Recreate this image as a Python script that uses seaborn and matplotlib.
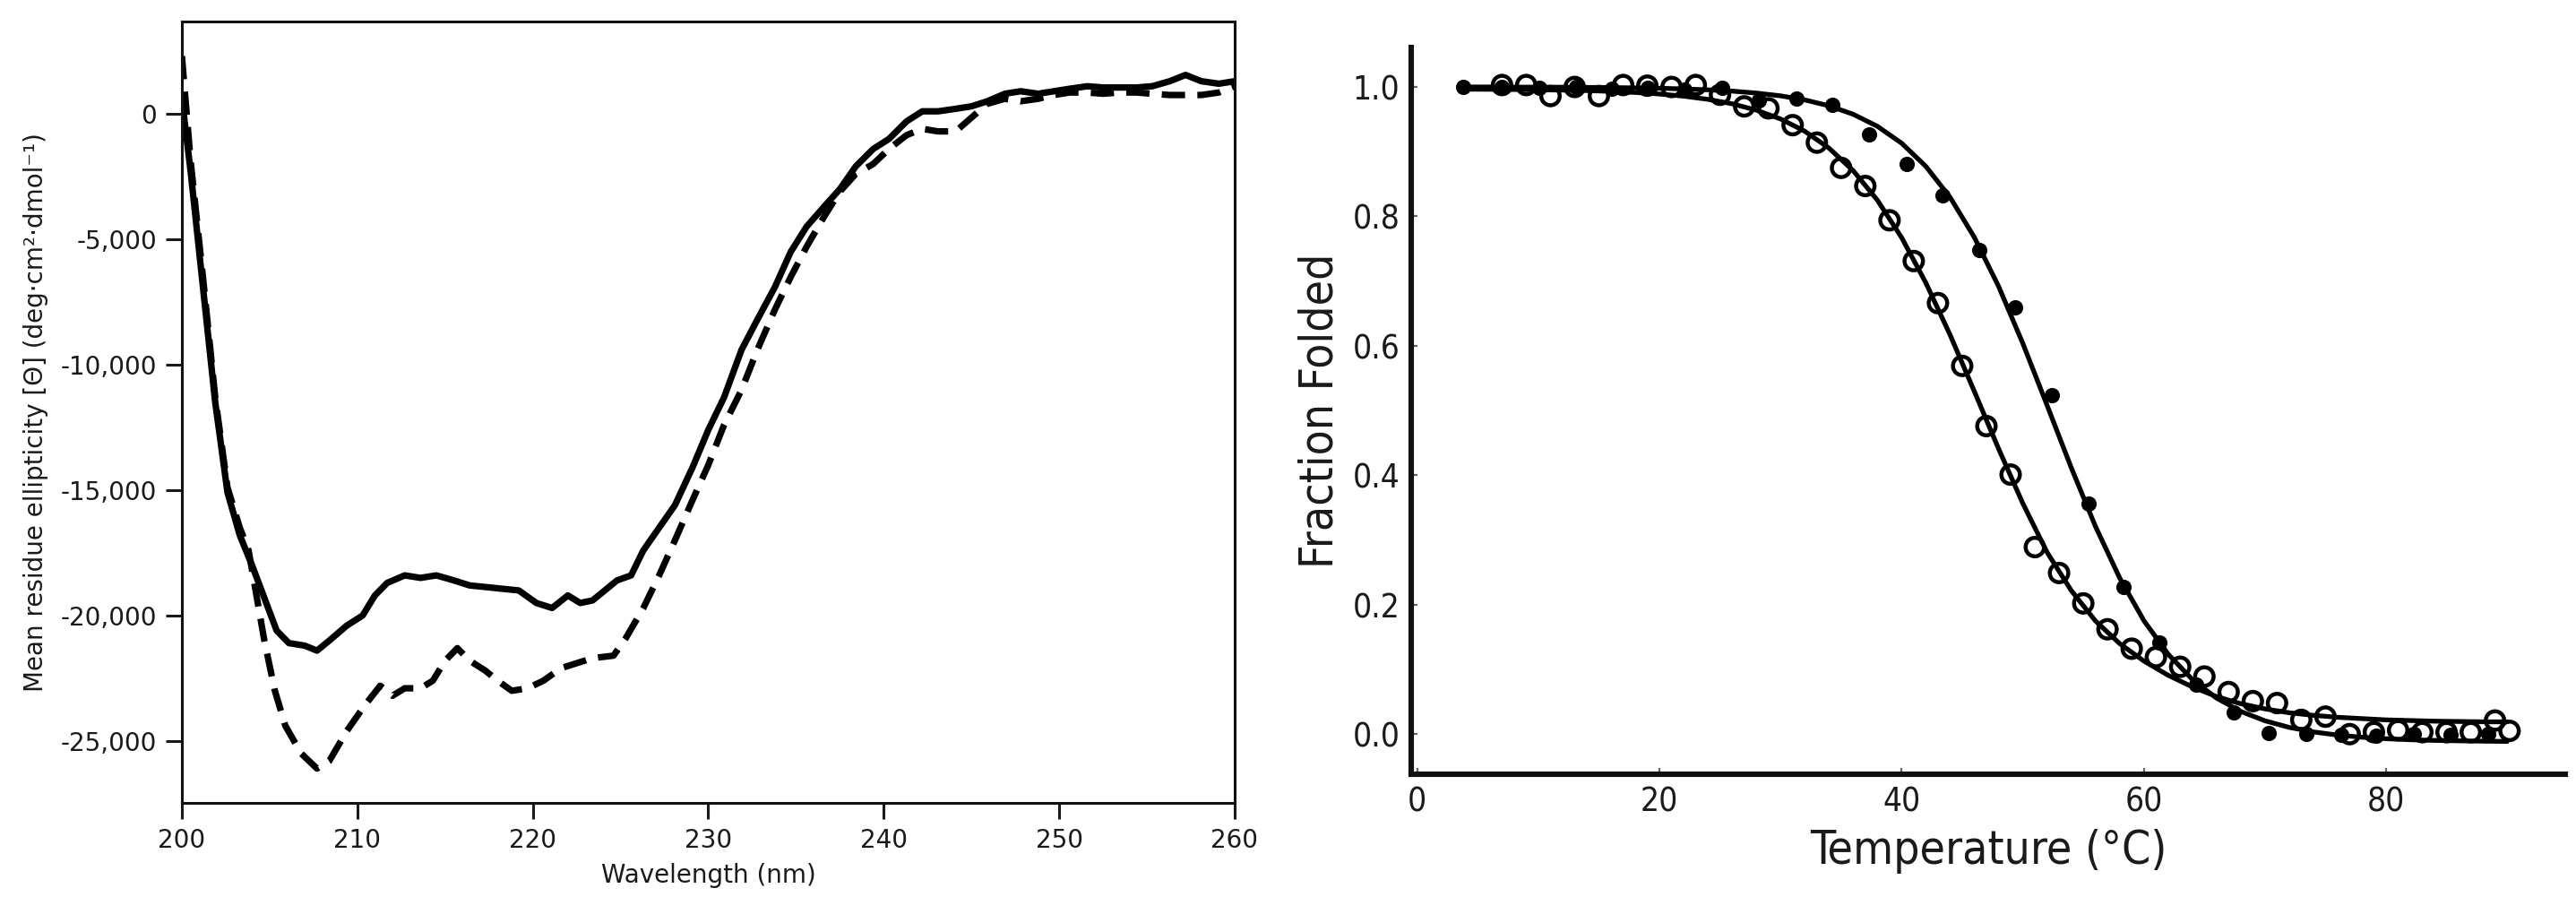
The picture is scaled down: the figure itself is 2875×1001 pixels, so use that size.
import numpy as np
import pandas as pd
import matplotlib
matplotlib.use("Agg")
import matplotlib.pyplot as plt
from matplotlib.ticker import FuncFormatter
import seaborn as sns

# ---------------- data: CD spectra (left) ----------------
wl_solid = [200.0, 200.5, 201.2, 201.9, 202.6, 203.3, 204.0, 204.7, 205.4, 206.1,
            207.0, 207.7, 208.4, 209.4, 210.3, 211.0, 211.7, 212.7, 213.6, 214.5,
            215.5, 216.4, 217.8, 219.2, 220.2, 221.1, 222.0, 222.7, 223.4, 224.1,
            224.8, 225.6, 226.3, 227.2, 228.1, 229.1, 230.0, 230.9, 231.9, 232.8,
            233.8, 234.7, 235.6, 236.6, 237.5, 238.4, 239.4, 240.3, 241.3, 242.2,
            243.1, 244.1, 245.0, 245.9, 246.9, 247.8, 248.8, 249.7, 250.6, 251.6,
            252.5, 253.4, 254.4, 255.3, 256.3, 257.2, 258.1, 259.1, 260.0]
cd_solid = [600, -2300, -6900, -11500, -15100, -16800, -18000, -19300, -20600, -21100,
            -21200, -21400, -21000, -20400, -20000, -19200, -18700, -18400, -18500, -18400,
            -18600, -18800, -18900, -19000, -19500, -19700, -19200, -19500, -19400, -19000,
            -18600, -18400, -17400, -16500, -15600, -14100, -12600, -11300, -9400, -8200,
            -6900, -5500, -4500, -3700, -3000, -2100, -1400, -1000, -300, 100,
            100, 200, 300, 500, 800, 900, 800, 900, 1000, 1100,
            1050, 1050, 1050, 1100, 1300, 1550, 1300, 1200, 1300]

wl_dashed = [200.0, 200.5, 201.2, 201.9, 202.6, 203.3, 203.8, 204.7, 205.3, 205.9,
             206.8, 207.7, 208.4, 209.4, 210.4, 211.3, 212.0, 212.7, 213.6, 214.3,
             215.0, 215.7, 216.4, 217.3, 218.0, 218.8, 219.7, 220.6, 221.6, 222.5,
             223.4, 224.6, 225.3, 226.3, 227.2, 228.1, 229.1, 230.0, 230.9, 231.9,
             232.8, 233.8, 234.7, 235.6, 236.6, 237.5, 238.4, 239.4, 240.3, 241.3,
             242.2, 243.1, 244.1, 245.0, 245.9, 246.9, 247.8, 248.8, 249.7, 250.6,
             251.6, 252.5, 253.4, 254.4, 255.3, 256.3, 257.2, 258.1, 259.1, 260.0]
cd_dashed = [2300, -1900, -6500, -11300, -14900, -16500, -17400, -21000, -23000, -24400,
             -25500, -26100, -25800, -24600, -23600, -22800, -23200, -22900, -22900, -22600,
             -21800, -21300, -21800, -22200, -22600, -23000, -22900, -22600, -22100, -21900,
             -21700, -21600, -20900, -19700, -18400, -17000, -15400, -14000, -12400, -11000,
             -9400, -7800, -6500, -5300, -4100, -3100, -2400, -2000, -1400, -850,
             -600, -700, -700, -150, 400, 600, 500, 600, 750, 850,
             850, 800, 850, 850, 800, 750, 750, 750, 850, 1100]

cd_yticks = [-25000, -20000, -15000, -10000, -5000, 0]
cd_xticks = [200, 210, 220, 230, 240, 250, 260]

# ---------------- data: thermal melts (right) ----------------
temp_filled = [3.8, 7.0, 10.1, 13.1, 16.1, 19.0, 22.1, 25.2, 28.2, 31.3,
               34.3, 37.3, 40.4, 43.4, 46.4, 49.4, 52.4, 55.4, 58.3, 61.3,
               64.3, 67.4, 70.3, 73.4, 76.3, 79.2, 82.3, 85.3, 88.4]
frac_filled = [1.000, 1.000, 0.998, 1.000, 0.997, 0.998, 0.996, 0.998, 0.979, 0.982,
               0.973, 0.927, 0.881, 0.833, 0.748, 0.660, 0.524, 0.356, 0.228, 0.142,
               0.076, 0.034, 0.002, 0.001, -0.001, -0.003, 0.000, -0.001, 0.000]

temp_open = [7, 9, 11, 13, 15, 17, 19, 21, 23, 25, 27, 29, 31, 33, 35, 37, 39, 41, 43,
             45, 47, 49, 51, 53, 55, 57, 59, 61, 63, 65, 67, 69, 71, 73, 75, 77, 79,
             81, 83, 85, 87, 89, 90.2]
frac_open = [1.003, 1.003, 0.986, 1.000, 0.986, 1.003, 1.002, 1.000, 1.003, 0.988,
             0.970, 0.967, 0.941, 0.914, 0.875, 0.847, 0.794, 0.731, 0.666, 0.569,
             0.476, 0.401, 0.289, 0.249, 0.202, 0.162, 0.132, 0.119, 0.104, 0.089,
             0.065, 0.051, 0.048, 0.022, 0.027, 0.000, 0.003, 0.006, 0.003, 0.003,
             0.003, 0.021, 0.005]

temp_fit = [4, 6, 8, 10, 12, 14, 16, 18, 20, 22, 24, 26, 28, 30, 32, 34, 36, 38, 40, 42,
            44, 46, 48, 50, 52, 54, 56, 58, 60, 62, 64, 66, 68, 70, 72, 74, 76, 78, 80,
            82, 84, 86, 88, 90]
fit_filled = [1.000, 1.000, 0.9998, 0.9997, 0.9996, 0.9994, 0.9991, 0.9986, 0.9980, 0.9970,
              0.9956, 0.9936, 0.9906, 0.9863, 0.9800, 0.9709, 0.9578, 0.9392, 0.9131, 0.8773,
              0.8295, 0.7678, 0.6921, 0.6041, 0.5086, 0.4120, 0.3212, 0.2415, 0.1755, 0.1237,
              0.0845, 0.0557, 0.0351, 0.0206, 0.0104, 0.0034, -0.0015, -0.0048, -0.0071,
              -0.0087, -0.0097, -0.0104, -0.0109, -0.0113]
fit_open = [0.9966, 0.9964, 0.9961, 0.9957, 0.9951, 0.9944, 0.9932, 0.9915, 0.9891, 0.9858,
            0.9809, 0.9740, 0.9642, 0.9506, 0.9316, 0.9055, 0.8706, 0.8250, 0.7672, 0.6973,
            0.6169, 0.5297, 0.4412, 0.3568, 0.2813, 0.2220, 0.1750, 0.1400, 0.1130, 0.0910,
            0.0730, 0.0580, 0.0470, 0.0390, 0.0330, 0.0290, 0.0260, 0.0240, 0.0220,
            0.0210, 0.0200, 0.0195, 0.0190, 0.0190]

melt_yticks = [0.0, 0.2, 0.4, 0.6, 0.8, 1.0]
melt_xticks = [0, 20, 40, 60, 80]

# ---------------- figure ----------------
sns.set_style("white")
plt.rcParams["font.family"] = ["DejaVu Sans"]
plt.rcParams["axes.unicode_minus"] = False

W, H, DPI = 2875, 1001, 200
fig = plt.figure(figsize=(W / DPI, H / DPI), dpi=DPI)
fig.patch.set_facecolor("white")

# Left panel
ax1 = fig.add_axes([203 / W, (H - 896) / H, 1175 / W, 872 / H])
sns.lineplot(x=wl_solid, y=cd_solid, ax=ax1, color="black", lw=2.6,
             sort=False, estimator=None)
sns.lineplot(x=wl_dashed, y=cd_dashed, ax=ax1, color="black", lw=2.6,
             sort=False, estimator=None, linestyle=(0, (3.6, 1.9)))
ax1.set_xlim(200, 260)
ax1.set_ylim(-27470, 3680)
ax1.set_xticks(cd_xticks)
ax1.set_yticks(cd_yticks)
ax1.yaxis.set_major_formatter(FuncFormatter(lambda v, p: f"{int(v):,}"))
for s in ax1.spines.values():
    s.set_visible(True)
    s.set_linewidth(1.1)
    s.set_color("#111111")
ax1.tick_params(direction="out", length=6.5, width=1.1, labelsize=10,
                pad=3.5, colors="#1a1a1a", left=True, bottom=True)
ax1.set_xlabel("Wavelength (nm)", fontsize=10, color="#1a1a1a", labelpad=4)
ax1.set_ylabel("Mean residue ellipticity [\u0398] (deg\u00b7cm\u00b2\u00b7dmol\u207b\u00b9)",
               fontsize=10, color="#1a1a1a", labelpad=5)

# Right panel
ax2 = fig.add_axes([1575 / W, (H - 864) / H, 1288 / W, 811 / H])
sns.lineplot(x=temp_fit, y=fit_filled, ax=ax2, color="black", lw=1.9,
             sort=False, estimator=None, zorder=2)
sns.lineplot(x=temp_fit, y=fit_open, ax=ax2, color="black", lw=1.9,
             sort=False, estimator=None, zorder=2)
sns.scatterplot(x=temp_filled, y=frac_filled, ax=ax2, color="black", s=38,
                linewidth=0, zorder=3)
sns.scatterplot(x=temp_open, y=frac_open, ax=ax2, color="black", s=55,
                linewidth=1.6, edgecolor="black", zorder=4)
ax2.collections[-1].set_facecolor("none")
ax2.set_xlim(-0.5, 94.8)
ax2.set_ylim(-0.062, 1.061)
ax2.set_xticks(melt_xticks)
ax2.set_yticks(melt_yticks)
ax2.set_xticklabels([str(t) for t in melt_xticks], fontsize=13.3,
                    fontstretch="condensed", color="#1a1a1a")
ax2.set_yticklabels([f"{t:.1f}" for t in melt_yticks], fontsize=13.3,
                    fontstretch="condensed", color="#1a1a1a")
for side in ["top", "right"]:
    ax2.spines[side].set_visible(False)
for side in ["left", "bottom"]:
    ax2.spines[side].set_visible(True)
    ax2.spines[side].set_linewidth(2.2)
    ax2.spines[side].set_color("#111111")
ax2.tick_params(direction="in", length=2.5, width=0.8, color="#666666",
                pad=4.5, left=True, bottom=True)
ax2.set_xlabel("Temperature (\u00b0C)", fontsize=18.5, fontstretch="condensed",
               color="#1a1a1a", labelpad=4)
ax2.set_ylabel("Fraction Folded", fontsize=18.5, fontstretch="condensed",
               color="#1a1a1a", labelpad=4)

fig.savefig("out.png", dpi=DPI, facecolor="white")
